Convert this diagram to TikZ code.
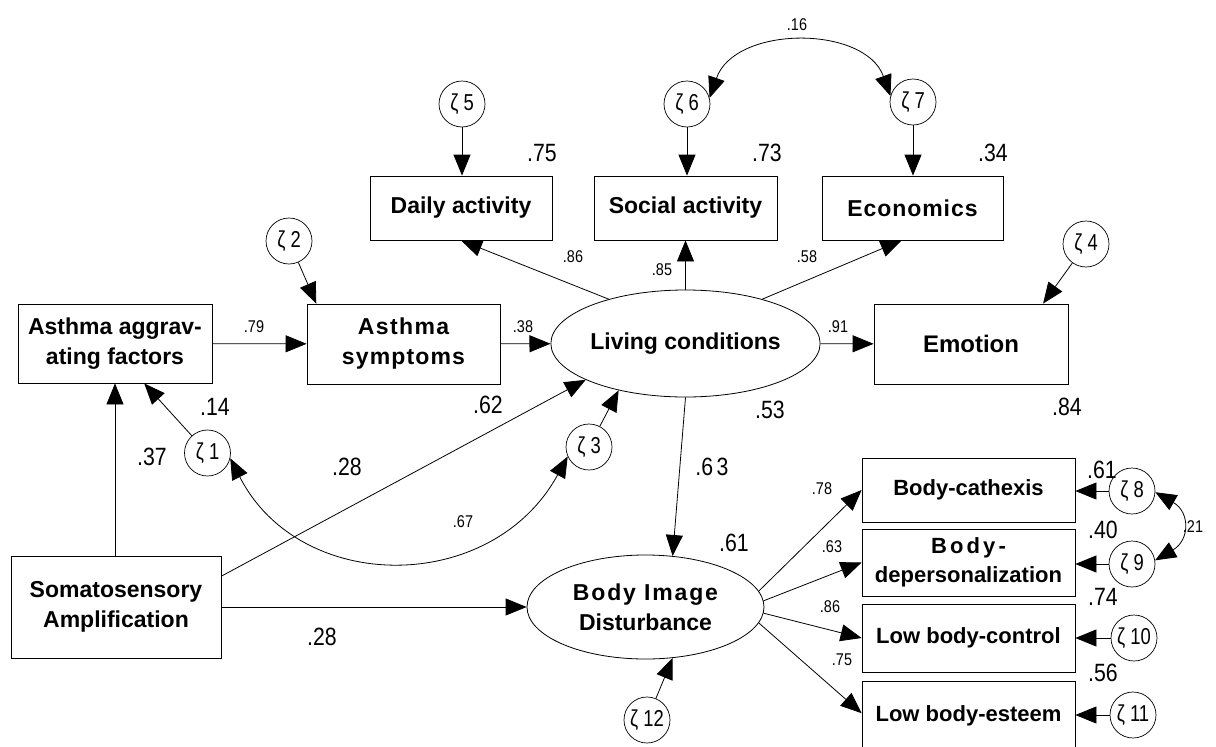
\documentclass[tikz,border=0pt]{standalone}
\usepackage{fontspec}
\usepackage{graphicx}
\setmainfont{Liberation Sans}
\usetikzlibrary{arrows.meta,shapes.geometric,calc}
\newcommand{\boxfnt}{\fontsize{23}{30}\selectfont\bfseries}
\newcommand{\sidefnt}{\fontsize{22}{29}\selectfont\bfseries}
\newcommand{\errfnt}{\fontsize{23}{23}\selectfont}
\newcommand{\smallfnt}{\fontsize{17}{17}\selectfont}
\newcommand{\bigfnt}{\fontsize{25}{25}\selectfont}
\newcommand{\narr}[1]{\scalebox{0.85}[1]{#1}}
\newcommand{\zt}[1]{\scalebox{0.8}[1]{ζ\hspace{0.28em}#1}}
\tikzset{
  box/.style={draw, line width=0.8pt, inner sep=0pt, align=center, font=\boxfnt},
  sidebox/.style={draw, line width=0.8pt, inner sep=0pt, align=center, font=\sidefnt,
    minimum width=213pt},
  lat/.style={draw, ellipse, line width=0.8pt, inner sep=0pt, align=center, font=\boxfnt},
  err/.style={draw, circle, line width=0.7pt, minimum size=46pt, inner sep=0pt, font=\errfnt},
  arr/.style={-{Triangle[length=21pt,width=17pt]}, line width=0.8pt},
  darr/.style={{Triangle[length=21pt,width=17pt]}-{Triangle[length=21pt,width=17pt]}, line width=0.8pt},
  sl/.style={font=\smallfnt, inner sep=0pt},
  bl/.style={font=\bigfnt, inner sep=0pt},
}
\begin{document}
\begin{tikzpicture}[x=1pt,y=-1pt]
\useasboundingbox (0,0) rectangle (1216,747);
\clip (0,0) rectangle (1216,747);
% boxes
\node[box, minimum width=194pt, minimum height=79pt] (agg) at (115,343.5) {Asthma aggrav-\\ating factors};
\node[box, minimum width=193pt, minimum height=80pt] (sym) at (403.5,344) {\addfontfeature{LetterSpace=6}Asthma\\\addfontfeature{LetterSpace=5}symptoms};
\node[box, minimum width=182pt, minimum height=64pt] (daily) at (461,208) {Daily activity};
\node[box, minimum width=183pt, minimum height=64pt] (social) at (685.5,208) {Social activity};
\node[box, minimum width=181pt, minimum height=64pt] (econ) at (912.5,208) {\addfontfeature{LetterSpace=4}Economics};
\node[box, minimum width=194pt, minimum height=80pt] (emotion) at (971,344) {\fontsize{24}{30}\selectfont Emotion};
\node[box, minimum width=210pt, minimum height=102pt] (somato) at (116,607) {Somatosensory\\Amplification};
\node[sidebox, minimum height=64pt] (cath) at (968.5,490) {Body-cathexis};
\node[sidebox, minimum height=67pt] (depers) at (968.5,562.5) {\addfontfeature{LetterSpace=14}Body-\\depersonalization};
\node[sidebox, minimum height=68pt] (control) at (968.5,638) {Low body-control};
\node[sidebox, minimum height=70pt] (esteem) at (968.5,716) {Low body-esteem};
% latent ellipses
\node[lat, minimum width=227pt, minimum height=107pt] (living) at (685.5,343.5) {Living conditions};
\node[lat, minimum width=237pt, minimum height=104pt] (body) at (645.5,607) {\addfontfeature{LetterSpace=8}Body Image\\Disturbance};
% error terms
\node[err] (z1) at (207.5,453) {\zt{1}};
\node[err] (z2) at (289,241) {\zt{2}};
\node[err] (z3) at (589,447) {\zt{3}};
\node[err] (z4) at (1086,244) {\zt{4}};
\node[err] (z5) at (462,104) {\zt{5}};
\node[err] (z6) at (687,104) {\zt{6}};
\node[err] (z7) at (913,102) {\zt{7}};
\node[err] (z8) at (1132,491) {\zt{8}};
\node[err] (z9) at (1132,564) {\zt{9}};
\node[err] (z10) at (1134,638) {\zt{10}};
\node[err] (z11) at (1133,715) {\zt{11}};
\node[err] (z12) at (647,720) {\zt{12}};
% paths
\draw[arr] (agg) -- (sym);
\draw[arr] (sym) -- (living);
\draw[arr] (living) -- (emotion);
\draw[arr] (living) -- (social);
\draw[arr] (living.150) -- (daily.south);
\draw[arr] (living.30) -- ($(econ.south west)!0.44!(econ.south east)$);
\draw[arr] (z5) -- (z5 |- daily.north);
\draw[arr] (z6) -- (z6 |- social.north);
\draw[arr] (z7) -- (z7 |- econ.north);
\draw[arr] (z2) -- ($(sym.north west)!0.05!(sym.north east)$);
\draw[arr] (z4) -- ($(emotion.north west)!0.87!(emotion.north east)$);
\draw[arr] (agg.south |- somato.north) -- (agg.south);
\draw[arr] (z1) -- ($(agg.south west)!0.65!(agg.south east)$);
\draw[arr] ($(somato.north east)!0.2!(somato.south east)$) -- (living.200);
\draw[arr] (z3) -- (living.215);
\draw[darr] (z1.-13) .. controls (300,595) and (492,595) .. (z3.204);
\draw[arr] (somato) -- (body);
\draw[arr] (living.south) -- (body.62);
\draw[arr] (z12) -- (body.-62);
\draw[arr] (body.8) -- (cath.west);
\draw[arr] (body.3) -- (depers.west);
\draw[arr] (body.-3) -- (control.west);
\draw[arr] (body.-8) -- ($(esteem.north west)!0.46!(esteem.south west)$);
\draw[arr] (z8) -- (z8 -| cath.east);
\draw[arr] (z9) -- (z9 -| depers.east);
\draw[arr] (z10) -- (z10 -| control.east);
\draw[arr] (z11) -- (z11 -| esteem.east);
\draw[darr] (z8.-3) .. controls (1190,512) and (1190,540) .. (z9.9);
\draw[darr] (z6.15) .. controls (735,25) and (865,25) .. (z7.165);
% small labels
\node[sl] (l79) at (254,327) {\narr{.79}};
\node[sl] (l38) at (523,327) {\narr{.38}};
\node[sl] (l91) at (838,327) {\narr{.91}};
\node[sl] (l85) at (662,270) {\narr{.85}};
\node[sl] (l86a) at (573,257) {\narr{.86}};
\node[sl] (l58) at (807,257) {\narr{.58}};
\node[sl] (l16) at (797,25) {\narr{.16}};
\node[sl] (l67) at (463,522) {\narr{.67}};
\node[sl] (l78) at (822,489) {\narr{.78}};
\node[sl] (l63b) at (832,547) {\narr{.63}};
\node[sl] (l86b) at (830,607) {\narr{.86}};
\node[sl] (l75b) at (842,660) {\narr{.75}};
\node[sl] (l21) at (1193,527) {\narr{.21}};
% big labels
\node[bl] (l75) at (542,153) {\narr{.75}};
\node[bl] (l73) at (767,153) {\narr{.73}};
\node[bl] (l34) at (993,153) {\narr{.34}};
\node[bl] (l14) at (215,407) {\narr{.14}};
\node[bl] (l37) at (152,457) {\narr{.37}};
\node[bl] (l28a) at (347,467) {\narr{.28}};
\node[bl] (l62) at (488,405) {\narr{.62}};
\node[bl] (l53) at (770,410) {\narr{.53}};
\node[bl] (l84) at (1067,407) {\narr{.84}};
\node[bl] (l63) at (712,467) {\narr{.6\,3}};
\node[bl] (l61) at (734,543) {\narr{.61}};
\node[bl] (l28b) at (322,637) {\narr{.28}};
\node[bl] (l61b) at (1102,470) {\narr{.61}};
\node[bl] (l40) at (1103,530) {\narr{.40}};
\node[bl] (l74) at (1103,597) {\narr{.74}};
\node[bl] (l56) at (1103,673) {\narr{.56}};
\end{tikzpicture}
\end{document}
